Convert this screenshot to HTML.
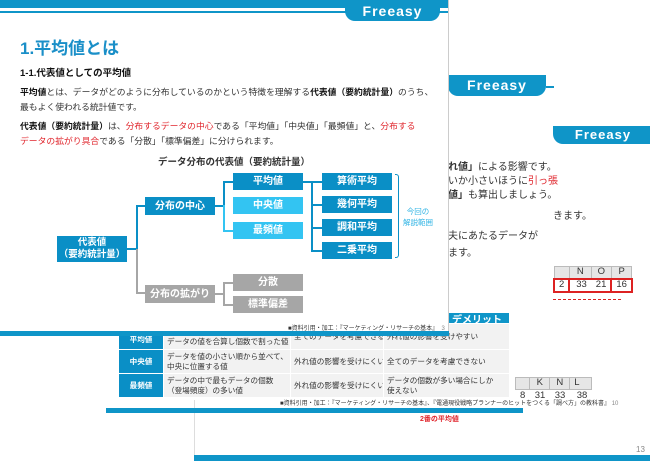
<!DOCTYPE html>
<html><head><meta charset="utf-8"><style>
*{margin:0;padding:0;box-sizing:border-box}
body{width:650px;height:461px;position:relative;overflow:hidden;background:#fff;font-family:"Liberation Sans","Noto Sans CJK JP",sans-serif;color:#333}
.a{position:absolute;white-space:nowrap}
.tab{position:absolute;background:#0f95c8;color:#fff;font-weight:bold;font-size:15px;letter-spacing:1px;text-align:center;border-radius:0 0 10px 10px}
.bx{position:absolute;color:#fff;font-weight:bold;font-size:10px;text-align:center;display:flex;align-items:center;justify-content:center;line-height:1.3}
.d{background:#0a8fc6}.l{background:#33c4f2}.g{background:#a6a6a6}
.ln{position:absolute}
.r{color:#e0262d}
td{border:1px solid #fff;font-size:9.5px;padding:0 4px;line-height:1.15;background:#f2f2f2}
.t2 td{font-size:7.6px;padding:0 3px;white-space:nowrap;overflow:hidden;line-height:1.2}
</style></head><body>

<!-- slide 3 (back) -->
<div class="a" style="left:194px;top:400px;width:1px;height:61px;background:#ddd"></div>
<div class="tab" style="left:553px;top:126px;width:100px;height:18px;border-radius:0 0 0 10px;font-size:13px;line-height:18px">Freeasy</div>
<div class="a" style="left:553px;top:207px;font-size:10px">きます。</div>
<table class="a" style="left:553px;top:266px;border-collapse:collapse">
<tr><td style="background:#e6e6e6;border:1px solid #bbb;width:12px;height:12px"></td><td style="background:#e6e6e6;border:1px solid #bbb;width:22px;text-align:center">N</td><td style="background:#e6e6e6;border:1px solid #bbb;width:20px;text-align:center">O</td><td style="background:#e6e6e6;border:1px solid #bbb;width:20px;text-align:center">P</td></tr>
<tr><td style="background:#fff;border:2px solid #d22;height:13px">2</td><td style="background:#fff;border-top:2px solid #d22;border-bottom:2px solid #d22;text-align:right">33</td><td style="background:#fff;border-top:2px solid #d22;border-bottom:2px solid #d22;text-align:right">21</td><td style="background:#fff;border:2px solid #d22;text-align:right">16</td></tr>
</table>
<div class="a" style="left:553px;top:299px;width:68px;border-top:1px dashed #d22"></div>
<table class="a" style="left:515px;top:377px;border-collapse:collapse">
<tr><td style="background:#e6e6e6;border:1px solid #bbb;width:8px;height:12px"></td><td style="background:#e6e6e6;border:1px solid #bbb;width:20px;text-align:center">K</td><td style="background:#e6e6e6;border:1px solid #bbb;width:20px;text-align:center">N</td><td style="background:#e6e6e6;border:1px solid #bbb;width:22px">L</td></tr>
<tr><td style="background:#fff;height:13px">8</td><td style="background:#fff;text-align:right">31</td><td style="background:#fff;text-align:right">33</td><td style="background:#fff;text-align:right">38</td></tr>
</table>
<div class="a r" style="left:420px;top:414px;font-size:7px;font-weight:bold">2番の平均値</div>
<div class="a" style="left:636px;top:445px;font-size:8px;color:#888">13</div>
<div class="a" style="left:194px;top:455px;width:456px;height:6px;background:#0f95c8"></div>

<!-- slide 2 (middle) -->
<div class="tab" style="left:448px;top:75px;width:98px;height:21px;border-radius:0 0 10px 10px;font-size:14px;line-height:21px">Freeasy</div>
<div class="a" style="left:546px;top:86px;width:8px;height:2px;background:#0f95c8"></div>
<div class="a" style="left:448px;top:161px;font-size:10px;line-height:14px">
<b>れ値」</b>による影響です。<br>いか小さいほうに<span class="r">引っ張</span><br><b>値」</b>も算出しましょう。</div>
<div class="a" style="left:448px;top:228px;font-size:10px;line-height:17px">夫にあたるデータが<br>ます。</div>
<div class="a" style="left:448px;top:313px;width:61px;height:15px;background:#0f95c8;color:#fff;font-weight:bold;font-size:10px;padding-left:4px;line-height:15px">デメリット</div>
<table class="a t2" style="left:118px;top:323px;border-collapse:collapse;table-layout:fixed;width:391px">
<colgroup><col style="width:45px"><col style="width:127px"><col style="width:93px"><col style="width:126px"></colgroup>
<tr style="height:26px"><td style="background:#0a8fc6;color:#fff;font-weight:bold;text-align:center;vertical-align:bottom;padding-bottom:5px">平均値</td><td>最もよく使われる「算術平均」は、<br>データの値を合算し個数で割った値</td><td>全てのデータを考慮できる</td><td>外れ値の影響を受けやすい</td></tr>
<tr style="height:24px"><td style="background:#0a8fc6;color:#fff;font-weight:bold;text-align:center">中央値</td><td>データを値の小さい順から並べて、<br>中央に位置する値</td><td>外れ値の影響を受けにくい</td><td>全てのデータを考慮できない</td></tr>
<tr style="height:24px"><td style="background:#0a8fc6;color:#fff;font-weight:bold;text-align:center">最頻値</td><td>データの中で最もデータの個数<br>（登場頻度）の多い値</td><td>外れ値の影響を受けにくい</td><td>データの個数が多い場合にしか<br>使えない</td></tr>
</table>
<div class="a" style="left:280px;top:398px;font-size:6px">■資料引用・加工：『マーケティング・リサーチの基本』、『電通現役戦略プランナーのヒットをつくる「調べ方」の教科書』 <span style="color:#888">10</span></div>
<div class="a" style="left:106px;top:408px;width:417px;height:5px;background:#0f95c8"></div>

<!-- slide 1 (front) -->
<div class="a" style="left:0;top:0;width:449px;height:333px;background:#fff;border-right:1px solid #ccc"></div>
<div class="a" style="left:0;top:0;width:448px;height:8px;background:#0f95c8"></div>
<div class="a" style="left:0;top:11px;width:448px;height:2px;background:#0f95c8"></div>
<div class="tab" style="left:345px;top:0;width:95px;height:21px;font-size:14px;line-height:22px">Freeasy</div>
<div class="a" style="left:20px;top:34px;font-size:17px;font-weight:bold;color:#1a8fc8">1.平均値とは</div>
<div class="a" style="left:20px;top:65px;font-size:9.5px;font-weight:bold;color:#111">1-1.代表値としての平均値</div>
<div class="a" style="left:20px;top:85px;font-size:8.8px;line-height:15px"><b style="color:#111">平均値</b>とは、データがどのように分布しているのかという特徴を理解する<b style="color:#111">代表値（要約統計量）</b>のうち、<br>最もよく使われる統計値です。</div>
<div class="a" style="left:20px;top:119px;font-size:8.8px;line-height:15px"><b style="color:#111">代表値（要約統計量）</b>は、<span class="r">分布するデータの中心</span>である「平均値」「中央値」「最頻値」と、<span class="r">分布する</span><br><span class="r">データの拡がり具合</span>である「分散」「標準偏差」に分けられます。</div>
<div class="a" style="left:158px;top:154px;font-size:9.5px;font-weight:bold">データ分布の代表値（要約統計量）</div>

<!-- connectors -->
<div class="ln" style="left:127px;top:248px;width:10px;height:2px;background:#0a8fc6"></div>
<div class="ln" style="left:136px;top:205px;width:2px;height:44px;background:#0a8fc6"></div>
<div class="ln" style="left:136px;top:205px;width:10px;height:2px;background:#0a8fc6"></div>
<div class="ln" style="left:136px;top:249px;width:2px;height:45px;background:#a6a6a6"></div>
<div class="ln" style="left:136px;top:292px;width:10px;height:2px;background:#a6a6a6"></div>
<div class="ln" style="left:215px;top:205px;width:10px;height:2px;background:#0a8fc6"></div>
<div class="ln" style="left:223px;top:181px;width:2px;height:26px;background:#0a8fc6"></div>
<div class="ln" style="left:223px;top:181px;width:10px;height:2px;background:#0a8fc6"></div>
<div class="ln" style="left:223px;top:205px;width:2px;height:26px;background:#33c4f2"></div>
<div class="ln" style="left:223px;top:230px;width:10px;height:2px;background:#33c4f2"></div>
<div class="ln" style="left:215px;top:293px;width:10px;height:2px;background:#a6a6a6"></div>
<div class="ln" style="left:223px;top:282px;width:2px;height:23px;background:#a6a6a6"></div>
<div class="ln" style="left:223px;top:282px;width:10px;height:2px;background:#a6a6a6"></div>
<div class="ln" style="left:223px;top:304px;width:10px;height:2px;background:#a6a6a6"></div>
<div class="ln" style="left:303px;top:181px;width:19px;height:2px;background:#0a8fc6"></div>
<div class="ln" style="left:311px;top:181px;width:2px;height:70px;background:#0a8fc6"></div>
<div class="ln" style="left:311px;top:204px;width:11px;height:2px;background:#0a8fc6"></div>
<div class="ln" style="left:311px;top:227px;width:11px;height:2px;background:#0a8fc6"></div>
<div class="ln" style="left:311px;top:250px;width:11px;height:2px;background:#0a8fc6"></div>
<div class="ln" style="left:395px;top:174px;width:4px;height:84px;border:1.5px solid #0a8fc6;border-left:none;border-radius:0 3px 3px 0"></div>

<div class="bx d" style="left:57px;top:236px;width:70px;height:26px;font-size:9.5px">代表値<br>（要約統計量）</div>
<div class="bx d" style="left:145px;top:197px;width:70px;height:18px">分布の中心</div>
<div class="bx g" style="left:145px;top:285px;width:70px;height:18px">分布の拡がり</div>
<div class="bx d" style="left:233px;top:173px;width:70px;height:17px">平均値</div>
<div class="bx l" style="left:233px;top:197px;width:70px;height:17px">中央値</div>
<div class="bx l" style="left:233px;top:222px;width:70px;height:17px">最頻値</div>
<div class="bx g" style="left:233px;top:274px;width:70px;height:17px">分散</div>
<div class="bx g" style="left:233px;top:296px;width:70px;height:17px">標準偏差</div>
<div class="bx d" style="left:322px;top:173px;width:70px;height:17px">算術平均</div>
<div class="bx d" style="left:322px;top:196px;width:70px;height:17px">幾何平均</div>
<div class="bx d" style="left:322px;top:219px;width:70px;height:17px">調和平均</div>
<div class="bx d" style="left:322px;top:242px;width:70px;height:17px">二乗平均</div>
<div class="a" style="left:403px;top:206px;font-size:7.5px;color:#33b5e5;text-align:center;line-height:11px">今回の<br>解説範囲</div>
<div class="a" style="left:288px;top:323px;font-size:6px">■資料引用・加工：『マーケティング・リサーチの基本』 <span style="color:#888">&nbsp;3</span></div>
<div class="a" style="left:0;top:331px;width:449px;height:5px;background:#0f95c8"></div>
</body></html>
